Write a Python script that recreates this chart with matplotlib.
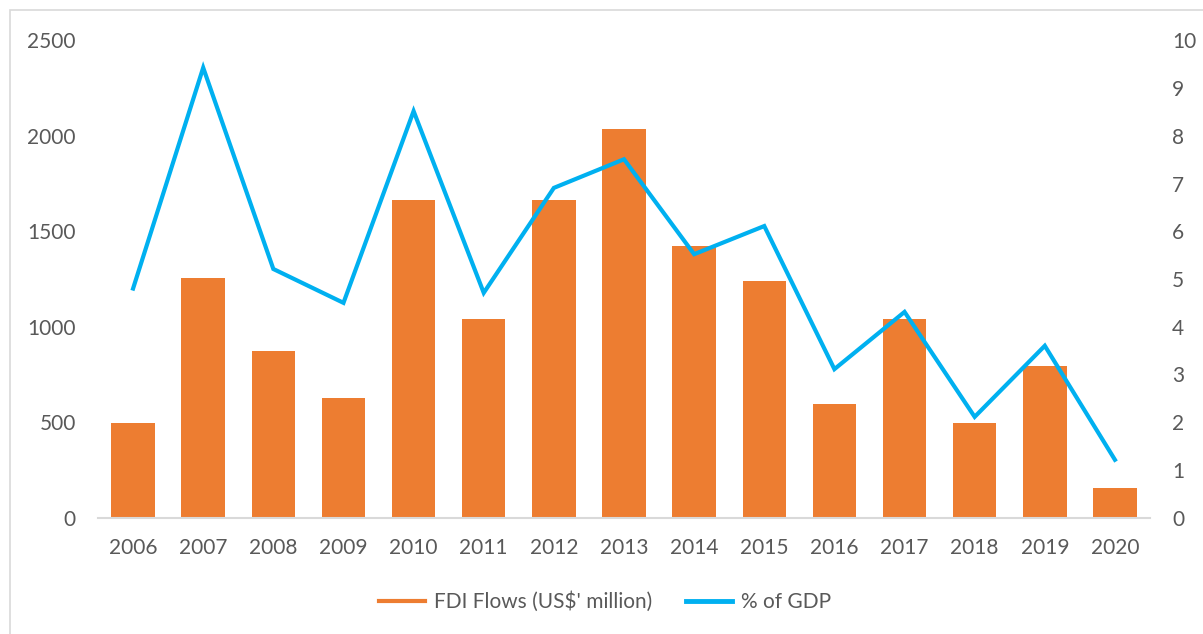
import matplotlib
matplotlib.use("Agg")
import matplotlib.pyplot as plt
from matplotlib.lines import Line2D
from matplotlib.patches import Rectangle

years = ["2006", "2007", "2008", "2009", "2010", "2011", "2012", "2013",
         "2014", "2015", "2016", "2017", "2018", "2019", "2020"]
fdi_flows = [494, 1256, 871, 627, 1665, 1041, 1665, 2034, 1422, 1239,
             594, 1041, 496, 793, 155]
pct_gdp = [4.80, 9.43, 5.21, 4.50, 8.52, 4.71, 6.91, 7.51, 5.52, 6.11,
           3.11, 4.31, 2.11, 3.60, 1.21]
left_ticks = [0, 500, 1000, 1500, 2000, 2500]
right_ticks = list(range(0, 11))

ORANGE = "#ED7D31"
BLUE = "#00B0F0"
TXT = "#595959"
GRID = "#D9D9D9"

plt.rcParams["font.family"] = ["Lato", "DejaVu Sans"]

fig = plt.figure(figsize=(12.03, 6.34), dpi=100)
fig.patches.append(Rectangle((10 / 1203, -0.1), 1.2, (624 / 634) + 0.1,
                             transform=fig.transFigure, fill=False,
                             edgecolor=GRID, lw=1.2))

ax = fig.add_axes([98 / 1203, 1 - 517.5 / 634, (1150 - 98) / 1203, (517.5 - 40.5) / 634])
x = list(range(len(years)))
ax.bar(x, fdi_flows, width=0.62, color=ORANGE, zorder=2)
ax.set_xlim(-0.5, len(years) - 0.5)
ax.set_ylim(0, 2500)
ax.set_yticks(left_ticks)
ax.set_xticks(x)
ax.set_xticklabels(years)
for s in ["top", "right", "left"]:
    ax.spines[s].set_visible(False)
ax.spines["bottom"].set_color(GRID)
ax.spines["bottom"].set_linewidth(1.5)
ax.tick_params(axis="both", length=0, labelsize=15, colors=TXT)
ax.tick_params(axis="x", pad=15)
ax.tick_params(axis="y", pad=16)

ax2 = ax.twinx()
ax2.plot(x, pct_gdp, color=BLUE, lw=3, solid_joinstyle="miter", zorder=3)
ax2.set_ylim(0, 10)
ax2.set_yticks(right_ticks)
for s in ["top", "right", "left", "bottom"]:
    ax2.spines[s].set_visible(False)
ax2.tick_params(axis="y", length=0, labelsize=15, colors=TXT, pad=16)

handles = [Line2D([], [], color=ORANGE, lw=3),
           Line2D([], [], color=BLUE, lw=3.5)]
fig.legend(handles, ["FDI Flows (US$' million)", "% of GDP"],
           loc="center", bbox_to_anchor=(605 / 1203, 1 - 602 / 634),
           ncol=2, frameon=False, fontsize=15, labelcolor=TXT,
           handlelength=2.2, handletextpad=0.45, columnspacing=1.6)

fig.savefig("out.png", dpi=100)
